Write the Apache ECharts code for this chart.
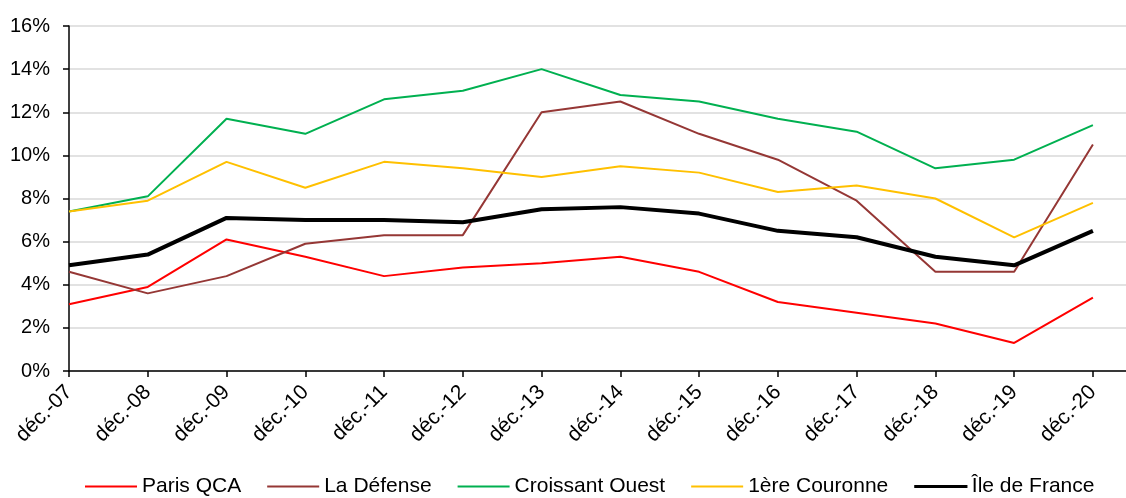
<!DOCTYPE html>
<html>
<head>
<meta charset="utf-8">
<script src="https://cdn.jsdelivr.net/npm/echarts@6/dist/echarts.min.js"></script>
<style>
html,body{margin:0;padding:0;background:#fff;}
#c{width:1126px;height:498px;}
</style>
</head>
<body>
<div id="c"></div>
<script>
const categories = ['déc.-07','déc.-08','déc.-09','déc.-10','déc.-11','déc.-12','déc.-13','déc.-14','déc.-15','déc.-16','déc.-17','déc.-18','déc.-19','déc.-20'];
const parisQCA = [3.1,3.9,6.1,5.3,4.4,4.8,5.0,5.3,4.6,3.2,2.7,2.2,1.3,3.4];
const laDefense = [4.6,3.6,4.4,5.9,6.3,6.3,12.0,12.5,11.0,9.8,7.9,4.6,4.6,10.5];
const croissantOuest = [7.4,8.1,11.7,11.0,12.6,13.0,14.0,12.8,12.5,11.7,11.1,9.4,9.8,11.4];
const premiereCouronne = [7.4,7.9,9.7,8.5,9.7,9.4,9.0,9.5,9.2,8.3,8.6,8.0,6.2,7.8];
const ileDeFrance = [4.9,5.4,7.1,7.0,7.0,6.9,7.5,7.6,7.3,6.5,6.2,5.3,4.9,6.5];
const yTicks = [0,2,4,6,8,10,12,14,16];

const font = '"Liberation Sans", Arial, sans-serif';
const idx = categories.map((_, i) => i);
function pairs(arr){ return arr.map((v,i)=>[i,v]); }
function mk(name, data, color, width){
  return {name, type:'line', data:pairs(data), symbol:'none', showSymbol:false,
    lineStyle:{color, width}, itemStyle:{color}, animation:false, z: width>3?5:3};
}
const chart = echarts.init(document.getElementById('c'), null, {renderer:'canvas'});
chart.setOption({
  animation:false,
  grid:{left:69, top:26, right:0, height:345, containLabel:false},
  xAxis:{type:'value', min:0, max:13.42,
    axisLine:{show:true, onZero:false, lineStyle:{color:'#000', width:1.5}},
    axisTick:{show:true, length:6, customValues:idx, lineStyle:{color:'#000', width:1.5}},
    axisLabel:{show:true, customValues:idx, rotate:45, margin:18, fontFamily:font, fontSize:21, color:'#000',
      formatter:v=>categories[Math.round(v)]},
    splitLine:{show:false}},
  yAxis:{type:'value', min:yTicks[0], max:yTicks[yTicks.length-1], interval:2,
    axisLine:{show:true, lineStyle:{color:'#000', width:1.5}},
    axisTick:{show:true, length:6, lineStyle:{color:'#000', width:1.5}},
    axisLabel:{margin:19, fontFamily:font, fontSize:20, color:'#000', formatter:v=>v+'%'},
    splitLine:{show:true, lineStyle:{color:'#d9d9d9', width:1.5}}},
  legend:{top:476, left:85, padding:0, itemWidth:52, itemHeight:2, itemGap:26, icon:'rect',
    textStyle:{fontFamily:font, fontSize:21, color:'#000'},
    data:[
      {name:'Paris QCA'},
      {name:'La Défense'},
      {name:'Croissant Ouest'},
      {name:'1ère Couronne'},
      {name:'Île de France', itemStyle:{borderColor:'#000', borderWidth:1.2}}
    ]},
  series:[
    mk('Paris QCA', parisQCA, '#ff0000', 2),
    mk('La Défense', laDefense, '#953735', 2),
    mk('Croissant Ouest', croissantOuest, '#00b050', 2),
    mk('1ère Couronne', premiereCouronne, '#ffc000', 2),
    mk('Île de France', ileDeFrance, '#000000', 4)
  ]
});
</script>
</body>
</html>
